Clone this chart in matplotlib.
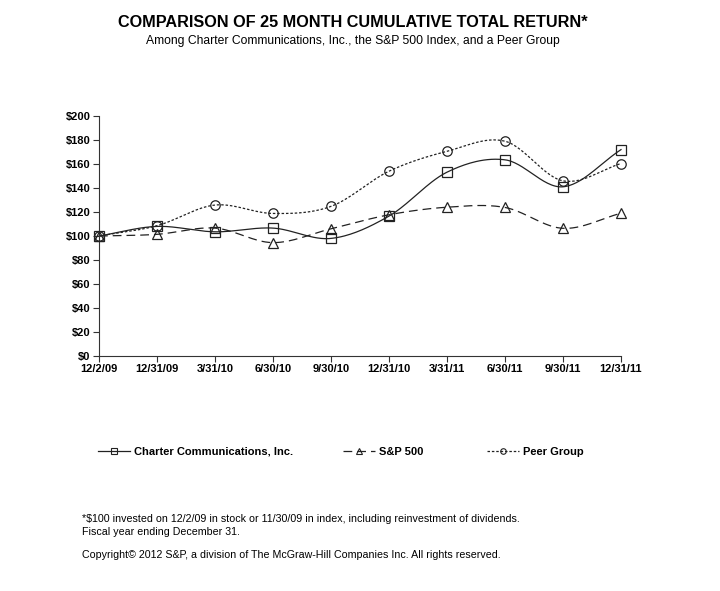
import numpy as np
import matplotlib
matplotlib.use("Agg")
import matplotlib.pyplot as plt
from matplotlib.ticker import FuncFormatter

plt.rcParams['font.family'] = ['Liberation Sans', 'DejaVu Sans']

dates = ["12/2/09", "12/31/09", "3/31/10", "6/30/10", "9/30/10", "12/31/10",
         "3/31/11", "6/30/11", "9/30/11", "12/31/11"]
charter = [100, 108, 103.5, 106.6, 98, 116.6, 153.2, 163.5, 141, 172]
sp500 = [100, 101.4, 106.6, 94.5, 106, 117.7, 124, 123.8, 106.4, 119]
peer = [100, 108.6, 125.8, 118.8, 124.7, 154, 170.6, 179, 146, 160.4]
yticks = list(range(0, 201, 20))


def smooth(x, y, n=30):
    # Catmull-Rom spline through the points (like Excel "smoothed line")
    x = np.asarray(x, float)
    y = np.asarray(y, float)
    px = np.concatenate([[2 * x[0] - x[1]], x, [2 * x[-1] - x[-2]]])
    py = np.concatenate([[2 * y[0] - y[1]], y, [2 * y[-1] - y[-2]]])
    xs, ys = [], []
    t = np.linspace(0, 1, n, endpoint=False)
    for i in range(1, len(px) - 2):
        def cr(a0, a1, a2, a3):
            return 0.5 * ((2 * a1) + (-a0 + a2) * t +
                          (2 * a0 - 5 * a1 + 4 * a2 - a3) * t ** 2 +
                          (-a0 + 3 * a1 - 3 * a2 + a3) * t ** 3)
        xs.append(cr(px[i - 1], px[i], px[i + 1], px[i + 2]))
        ys.append(cr(py[i - 1], py[i], py[i + 1], py[i + 2]))
    xs.append([x[-1]])
    ys.append([y[-1]])
    return np.concatenate(xs), np.concatenate(ys)


fig = plt.figure(figsize=(7.2, 5.91), dpi=100)
ax = fig.add_axes([0.1375, 0.3976, 0.725, 0.4061])

xpos = np.arange(len(dates))
col = '#222222'
series = [
    (charter, '-', 's', 7.0, 'Charter Communications, Inc.'),
    (sp500, (0, (7, 4)), '^', 7.0, 'S&P 500'),
    (peer, (0, (2, 1.5)), 'o', 6.8, 'Peer Group'),
]
handles = []
for vals, ls, mk, ms, lab in series:
    sx, sy = smooth(xpos, vals)
    ax.plot(sx, sy, color=col, lw=0.9, linestyle=ls, zorder=2, clip_on=False)
    ax.plot(xpos, vals, linestyle='none', marker=mk, markersize=ms,
            markerfacecolor='none', markeredgecolor=col, markeredgewidth=0.9,
            zorder=3, clip_on=False)
    h, = ax.plot([], [], color=col, lw=0.9, linestyle=ls, marker=mk, markersize=4,
                 markerfacecolor='none', markeredgecolor=col, markeredgewidth=0.8, label=lab)
    handles.append(h)

ax.set_xlim(0, len(dates) - 1)
ax.set_ylim(0, 200)
ax.set_xticks(xpos)
ax.set_xticklabels(dates)
ax.set_yticks(yticks)
ax.yaxis.set_major_formatter(FuncFormatter(lambda v, p: f"${int(v)}"))
for s in ['top', 'right']:
    ax.spines[s].set_visible(False)
for s in ['left', 'bottom']:
    ax.spines[s].set_linewidth(0.8)
    ax.spines[s].set_color('#333333')
ax.tick_params(axis='both', labelsize=8, length=4, width=0.8, colors='#333333',
               labelcolor='black')
for lbl in ax.get_xticklabels() + ax.get_yticklabels():
    lbl.set_fontweight('bold')
ax.tick_params(axis='x', pad=2)
ax.tick_params(axis='y', pad=2)

fig.text(0.49, 0.962, "COMPARISON OF 25 MONTH CUMULATIVE TOTAL RETURN*",
         ha='center', va='center', fontsize=11.7, fontweight='bold')
fig.text(0.49, 0.931, "Among Charter Communications, Inc., the S&P 500 Index, and a Peer Group",
         ha='center', va='center', fontsize=8.7)

legx = [98 / 720, 343 / 720, 487 / 720]
for h, lx in zip(handles, legx):
    leg = fig.legend(handles=[h], loc='center left', bbox_to_anchor=(lx, 1 - 452 / 591),
                     frameon=False, fontsize=8, handlelength=2.9, handletextpad=0.3,
                     borderaxespad=0, borderpad=0)
    for t in leg.get_texts():
        t.set_fontweight('bold')

fig.text(82 / 720, 1 - 519 / 591,
         "*$100 invested on 12/2/09 in stock or 11/30/09 in index, including reinvestment of dividends.",
         fontsize=7.65, va='center')
fig.text(82 / 720, 1 - 532 / 591, "Fiscal year ending December 31.", fontsize=7.65, va='center')
fig.text(82 / 720, 1 - 555 / 591,
         "Copyright\u00a9 2012 S&P, a division of The McGraw-Hill Companies Inc. All rights reserved.",
         fontsize=7.65, va='center')

fig.savefig("out.png", dpi=100, facecolor='white')
